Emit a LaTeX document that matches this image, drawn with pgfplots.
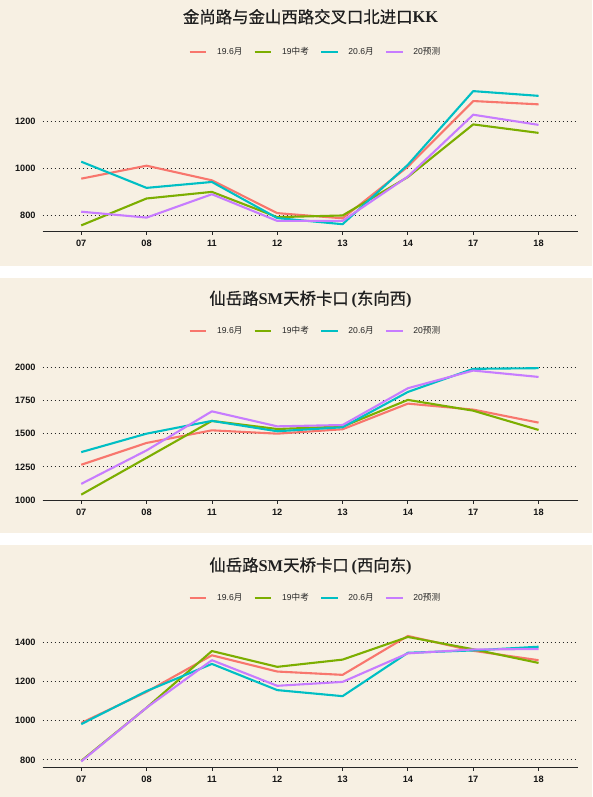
\documentclass[border=0pt]{standalone}
\usepackage{pgfplots}
\pgfplotsset{compat=1.18}
\usepackage{fontspec}
\setmainfont{Liberation Sans}
\newfontfamily\cjk{Noto Sans CJK SC}
\newfontfamily\cjkt{Noto Sans CJK SC}[FakeBold=0.6]
\newfontfamily\serifbf{Liberation Serif}
\definecolor{bg}{RGB}{247,240,227}
\definecolor{cR}{HTML}{F8766D}
\definecolor{cG}{HTML}{7CAE00}
\definecolor{cC}{HTML}{00BFC4}
\definecolor{cP}{HTML}{C77CFF}
\pgfplotsset{
  panel/.style={
    scale only axis, width=535.7pt, anchor=south west,
    xmin=-0.59, xmax=7.61,
    xtick={0,...,7}, xticklabels={07,08,11,12,13,14,17,18},
    axis x line*=bottom, axis y line*=left,
    x axis line style={-, line width=1pt, black!85},
    y axis line style={draw=none},
    ytick style={draw=none},
    xtick style={draw=black!85, line width=0.8pt},
    tick align=outside, major tick length=3pt,
    ymajorgrids,
    major grid style={black!85, line width=1.1pt, dash pattern=on 1.2pt off 2.8pt},
    tick label style={font=\fontsize{9.2}{10}\selectfont\bfseries, text=black!92},
    /pgf/number format/assume math mode=true,
    /pgf/number format/1000 sep={},
    yticklabel style={inner sep=0pt, xshift=-4pt},
    xticklabel style={inner sep=0pt, yshift=-5pt},
    every axis plot/.append style={line width=2.1pt, line join=round},
    legend columns=4,
    legend style={draw=none, fill=none, anchor=center,
      font=\fontsize{8.6}{10}\selectfont, text=black!85,
      nodes={inner sep=0pt},
      /tikz/every odd column/.append style={column sep=9.7pt},
      /tikz/every even column/.append style={column sep=11pt}},
    legend image code/.code={\draw[##1, line width=2.3pt] (0pt,0pt) -- (16.6pt,0pt);},
  }
}
\begin{document}
\begin{tikzpicture}
\path[use as bounding box] (0pt,0pt) rectangle (592pt,797pt);
\fill[white] (0pt,0pt) rectangle (592pt,797pt);
\fill[bg] (0pt,531pt) rectangle (592pt,797pt);
\fill[bg] (0pt,264pt) rectangle (592pt,519pt);
\fill[bg] (0pt,0pt) rectangle (592pt,252pt);

% Panel 1
\begin{axis}[panel, at={(42.7pt,565pt)}, height=147.7pt,
  ymin=731, ymax=1357, ytick={800,1000,1200},
  legend style={at={(0.5071,1.2207)}}]
\addplot[cR] coordinates {(0,957) (1,1012) (2,950) (3,811) (4,789) (5,1008) (6,1286) (7,1272)};
\addplot[cG] coordinates {(0,759) (1,873) (2,901) (3,794) (4,801) (5,964) (6,1187) (7,1151)};
\addplot[cC] coordinates {(0,1029) (1,918) (2,943) (3,790) (4,764) (5,1016) (6,1328) (7,1308)};
\addplot[cP] coordinates {(0,817) (1,792) (2,891) (3,778) (4,778) (5,966) (6,1228) (7,1185)};
\legend{19.6{\cjk 月},19{\cjk 中考},20.6{\cjk 月},20{\cjk 预测}}
\end{axis}

% Panel 2
\begin{axis}[panel, at={(42.7pt,296pt)}, height=139.2pt,
  ymin=993, ymax=2041, ytick={1000,1250,1500,1750,2000},
  legend style={at={(0.5071,1.2213)}}]
\addplot[cR] coordinates {(0,1266) (1,1430) (2,1525) (3,1500) (4,1533) (5,1726) (6,1681) (7,1583)};
\addplot[cG] coordinates {(0,1041) (1,1318) (2,1596) (3,1535) (4,1553) (5,1754) (6,1673) (7,1528)};
\addplot[cC] coordinates {(0,1361) (1,1500) (2,1596) (3,1518) (4,1548) (5,1814) (6,1988) (7,1993)};
\addplot[cP] coordinates {(0,1122) (1,1374) (2,1668) (3,1555) (4,1565) (5,1842) (6,1975) (7,1927)};
\legend{19.6{\cjk 月},19{\cjk 中考},20.6{\cjk 月},20{\cjk 预测}}
\end{axis}

% Panel 3
\begin{axis}[panel, at={(42.7pt,29.3pt)}, height=137.6pt,
  ymin=760, ymax=1464, ytick={800,1000,1200,1400},
  legend style={at={(0.5071,1.2333)}}]
\addplot[cR] coordinates {(0,989) (1,1148) (2,1335) (3,1252) (4,1235) (5,1434) (6,1358) (7,1310)};
\addplot[cG] coordinates {(0,795) (1,1067) (2,1357) (3,1276) (4,1313) (5,1429) (6,1366) (7,1296)};
\addplot[cC] coordinates {(0,983) (1,1152) (2,1291) (3,1157) (4,1126) (5,1348) (6,1360) (7,1379)};
\addplot[cP] coordinates {(0,792) (1,1067) (2,1310) (3,1179) (4,1199) (5,1345) (6,1365) (7,1367)};
\legend{19.6{\cjk 月},19{\cjk 中考},20.6{\cjk 月},20{\cjk 预测}}
\end{axis}

% Titles
\node[font=\fontsize{16.4}{16}\selectfont, text=black!88] at (310.5pt,780.3pt)
  {{\cjkt 金尚路与金山西路交叉口北进口}{\serifbf\bfseries KK}};
\node[font=\fontsize{16.4}{16}\selectfont, text=black!88] at (310.5pt,497.7pt)
  {{\cjkt 仙岳路}{\serifbf\bfseries SM}{\cjkt 天桥卡口}\,{\serifbf\bfseries (}{\cjkt 东向西}{\serifbf\bfseries )}};
\node[font=\fontsize{16.4}{16}\selectfont, text=black!88] at (310.5pt,231pt)
  {{\cjkt 仙岳路}{\serifbf\bfseries SM}{\cjkt 天桥卡口}\,{\serifbf\bfseries (}{\cjkt 西向东}{\serifbf\bfseries )}};
\end{tikzpicture}
\end{document}
